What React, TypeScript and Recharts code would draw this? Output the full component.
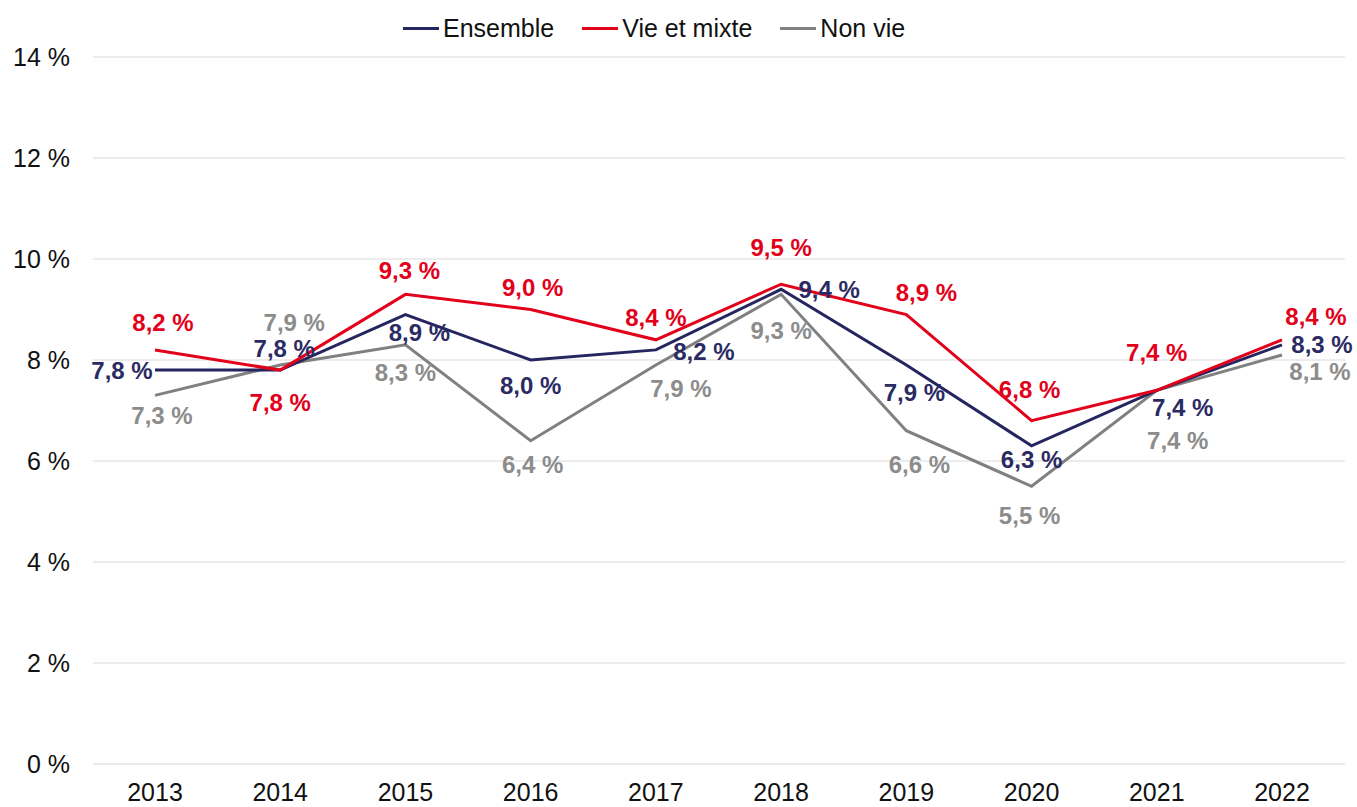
import React from "react";
import {
  LineChart,
  Line,
  XAxis,
  YAxis,
  CartesianGrid,
  LabelList,
} from "recharts";

const years = ["2013", "2014", "2015", "2016", "2017", "2018", "2019", "2020", "2021", "2022"];
const ensemble = [7.8, 7.8, 8.9, 8.0, 8.2, 9.4, 7.9, 6.3, 7.4, 8.3];
const vieEtMixte = [8.2, 7.8, 9.3, 9.0, 8.4, 9.5, 8.9, 6.8, 7.4, 8.4];
const nonVie = [7.3, 7.9, 8.3, 6.4, 7.9, 9.3, 6.6, 5.5, 7.4, 8.1];
const yTicks = [0, 2, 4, 6, 8, 10, 12, 14];

const data = years.map((year, i) => ({
  year,
  ensemble: ensemble[i],
  vie: vieEtMixte[i],
  nonVie: nonVie[i],
}));

// label placement, [dx, dy] from the point to the label centre
const ensembleOffsets = [[-33, 0], [4, -22], [14, 18], [0, 25], [48, 2], [48, 0], [8, 27], [0, 14], [26, 17], [40, 0]];
const vieOffsets = [[8, -27], [0, 32], [4, -24], [2, -22], [0, -22], [0, -37], [20, -22], [-2, -31], [0, -38], [34, -23]];
const nonVieOffsets = [[7, 20], [14, -43], [0, 28], [2, 24], [25, 23], [0, 36], [13, 34], [-2, 29], [21, 50], [38, 17]];

const FONT = "'Liberation Sans', Arial, sans-serif";

const fmt = (v: number) => v.toFixed(1).replace(".", ",") + " %";

function makeLabel(offsets: number[][], color: string) {
  return (props: any) => {
    const { x, y, value, index } = props;
    const [dx, dy] = offsets[index];
    return (
      <text
        x={x + dx}
        y={y + dy}
        textAnchor="middle"
        dominantBaseline="central"
        fill={color}
        fontFamily={FONT}
        fontSize={24}
        fontWeight="bold"
      >
        {fmt(value)}
      </text>
    );
  };
}

const legendItems = [
  { name: "Ensemble", color: "#252560" },
  { name: "Vie et mixte", color: "#e2001a" },
  { name: "Non vie", color: "#808080" },
];

function TopLegend() {
  return (
    <div
      style={{
        position: "absolute",
        top: 13,
        left: 403,
        display: "flex",
        fontFamily: FONT,
        fontSize: 25,
        color: "#111",
        lineHeight: "30px",
      }}
    >
      {legendItems.map((it) => (
        <div key={it.name} style={{ display: "flex", alignItems: "center", marginRight: 28 }}>
          <span style={{ display: "inline-block", width: 36, height: 3, background: it.color, marginRight: 4 }} />
          <span>{it.name}</span>
        </div>
      ))}
    </div>
  );
}

export default function App() {
  return (
    <div style={{ position: "absolute", left: 0, top: 0, width: 1357, height: 807, background: "#fff" }}>
      <LineChart width={1357} height={807} data={data} margin={{ top: 57, right: 12, bottom: 0, left: 13 }}>
        <CartesianGrid vertical={false} stroke="#e6e6e6" strokeWidth={1.5} />
        <XAxis
          dataKey="year"
          axisLine={false}
          tickLine={false}
          tickMargin={13}
          height={43}
          padding={{ left: 62, right: 63 }}
          tick={{ fill: "#111", fontSize: 25, fontFamily: FONT }}
        />
        <YAxis
          width={80}
          domain={[0, 14]}
          ticks={yTicks}
          axisLine={false}
          tickLine={false}
          tickSize={0}
          tickMargin={23}
          tickFormatter={(v: number) => `${v} %`}
          tick={{ fill: "#111", fontSize: 25, fontFamily: FONT }}
        />
        <Line
          dataKey="nonVie"
          stroke="#808080"
          strokeWidth={3}
          dot={false}
          isAnimationActive={false}
        >
          <LabelList dataKey="nonVie" content={makeLabel(nonVieOffsets, "#8c8c8c")} />
        </Line>
        <Line
          dataKey="ensemble"
          stroke="#252560"
          strokeWidth={3}
          dot={false}
          isAnimationActive={false}
        >
          <LabelList dataKey="ensemble" content={makeLabel(ensembleOffsets, "#2b2b63")} />
        </Line>
        <Line
          dataKey="vie"
          stroke="#e2001a"
          strokeWidth={3}
          dot={false}
          isAnimationActive={false}
        >
          <LabelList dataKey="vie" content={makeLabel(vieOffsets, "#e2001a")} />
        </Line>
      </LineChart>
      <TopLegend />
    </div>
  );
}
